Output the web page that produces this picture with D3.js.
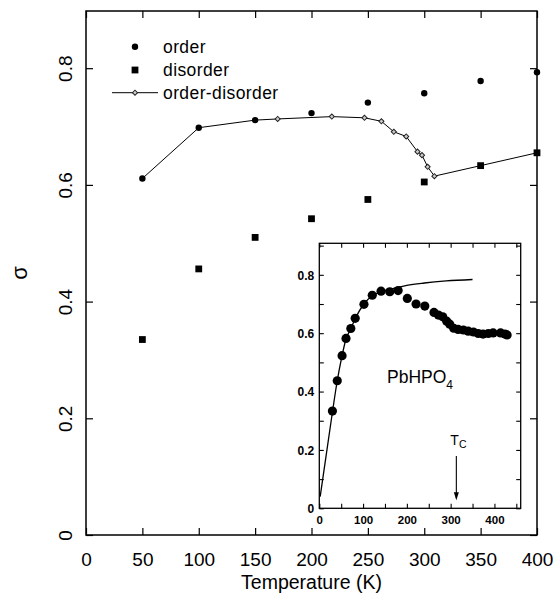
<!DOCTYPE html>
<html>
<head>
<meta charset="utf-8">
<script src="https://cdn.jsdelivr.net/npm/d3@7"></script>
<style>
  body { margin: 0; background: #fff; }
  text { font-family: "Liberation Sans", Arial, sans-serif; fill: #000; }
</style>
</head>
<body>
<div id="chart"></div>
<script>
// main panel data
var temps = [50, 100, 150, 200, 250, 300, 350, 400];
var orderVals = [0.611, 0.698, 0.711, 0.723, 0.741, 0.757, 0.778, 0.793];
var disorderVals = [0.335, 0.456, 0.510, 0.542, 0.575, 0.605, 0.633, 0.655];
var odTemps = [50, 100, 150, 170, 218, 247, 262, 273, 284, 294, 298, 303, 309, 350, 400];
var odVals = [0.611, 0.698, 0.711, 0.713, 0.717, 0.715, 0.709, 0.691, 0.683, 0.657, 0.651, 0.631, 0.615, 0.633, 0.655];
var xTicks = [0, 50, 100, 150, 200, 250, 300, 350, 400];
var yTicks = [0, 0.2, 0.4, 0.6, 0.8];

// inset data (PbHPO4)
var insetT = [30, 41, 52, 61, 72, 82, 102, 121, 141, 161, 180, 201, 221, 241, 262, 272, 282, 291, 298, 307, 317, 329, 340, 352, 363, 374, 386, 397, 414, 424, 429];
var insetSigma = [0.333, 0.437, 0.523, 0.582, 0.616, 0.651, 0.699, 0.730, 0.744, 0.742, 0.746, 0.719, 0.700, 0.693, 0.671, 0.662, 0.656, 0.641, 0.631, 0.617, 0.613, 0.611, 0.607, 0.604, 0.599, 0.597, 0.599, 0.601, 0.601, 0.597, 0.594];
var theoryT = [2, 30, 41, 52, 61, 72, 82, 102, 121, 141, 165, 200, 240, 290, 350];
var theorySigma = [0.04, 0.33, 0.437, 0.523, 0.58, 0.615, 0.65, 0.70, 0.728, 0.742, 0.752, 0.764, 0.772, 0.779, 0.784];
var insetXTicks = [0, 100, 200, 300, 400];
var Tc = 313;

var svg = d3.select("#chart").append("svg")
    .attr("width", 555)
    .attr("height", 605);

var x = d3.scaleLinear().domain([0, 400]).range([86, 537]);
var y = d3.scaleLinear().domain([0, 0.898]).range([535, 11]);

// frame
svg.append("rect")
    .attr("x", 86).attr("y", 11)
    .attr("width", 451).attr("height", 524)
    .attr("fill", "none").attr("stroke", "#000").attr("stroke-width", 1.5);

var fmt = d => d === 0 ? "0" : d3.format(".1f")(d);

var bottom = svg.append("g").attr("transform", "translate(0,535)")
    .call(d3.axisBottom(x).tickValues(xTicks).tickSizeInner(-7).tickSizeOuter(0));
bottom.selectAll("text").attr("y", 31).attr("dy", 0).style("font-size", "19px");
svg.append("g").attr("transform", "translate(0,11)")
    .call(d3.axisTop(x).tickValues(xTicks).tickSizeInner(-7).tickSizeOuter(0).tickFormat(""));

var left = svg.append("g").attr("transform", "translate(86,0)")
    .call(d3.axisLeft(y).tickValues(yTicks).tickSizeInner(-7).tickSizeOuter(0).tickFormat(fmt));
left.selectAll("text")
    .attr("transform", "rotate(-90)")
    .attr("x", 0).attr("y", -14).attr("dy", 0)
    .attr("text-anchor", "middle")
    .style("font-size", "19px");
svg.append("g").attr("transform", "translate(537,0)")
    .call(d3.axisRight(y).tickValues(yTicks).tickSizeInner(-7).tickSizeOuter(0).tickFormat(""));

svg.selectAll(".domain").remove();
svg.selectAll(".tick line").attr("stroke", "#000").attr("stroke-width", 1.2);

svg.append("text")
    .attr("x", 311.5).attr("y", 589)
    .attr("text-anchor", "middle")
    .style("font-size", "19.5px")
    .text("Temperature (K)");

svg.append("text")
    .attr("transform", "translate(27,273) rotate(-90)")
    .attr("text-anchor", "middle")
    .style("font-size", "22px")
    .text("σ");

// order-disorder line
var line = d3.line().x(d => x(d[0])).y(d => y(d[1]));
var odPts = odTemps.map((t, i) => [t, odVals[i]]);
svg.append("path")
    .attr("d", line(odPts))
    .attr("fill", "none").attr("stroke", "#000").attr("stroke-width", 1);

var diamond = d3.symbol().type(d3.symbolSquare).size(13);
svg.selectAll(".od")
    .data(odPts.filter(d => temps.indexOf(d[0]) < 0))
    .enter().append("path")
    .attr("d", diamond)
    .attr("transform", d => `translate(${x(d[0])},${y(d[1])}) rotate(45)`)
    .attr("fill", "#ccc").attr("stroke", "#222").attr("stroke-width", 1);

svg.selectAll(".ord")
    .data(temps)
    .enter().append("circle")
    .attr("cx", d => x(d))
    .attr("cy", (d, i) => y(orderVals[i]))
    .attr("r", 3.2)
    .attr("fill", "#000");

svg.selectAll(".dis")
    .data(temps)
    .enter().append("rect")
    .attr("x", d => x(d) - 3.4)
    .attr("y", (d, i) => y(disorderVals[i]) - 3.4)
    .attr("width", 6.8).attr("height", 6.8)
    .attr("fill", "#000");

// legend
var lg = svg.append("g");
lg.append("circle").attr("cx", 135).attr("cy", 46.7).attr("r", 3.2);
lg.append("rect").attr("x", 131.6).attr("y", 66.6).attr("width", 6.8).attr("height", 6.8);
lg.append("line").attr("x1", 112).attr("x2", 158).attr("y1", 92.7).attr("y2", 92.7)
    .attr("stroke", "#000").attr("stroke-width", 1);
lg.append("path").attr("d", diamond).attr("transform", "translate(135,92.7) rotate(45)")
    .attr("fill", "#ccc").attr("stroke", "#222");
["order", "disorder", "order-disorder"].forEach(function(s, i) {
    lg.append("text")
        .attr("x", 163).attr("y", [46.7, 70, 92.7][i])
        .attr("dy", "0.35em")
        .style("font-size", "17.5px")
        .style("letter-spacing", "0.4px")
        .text(s);
});

// inset
var ix = d3.scaleLinear().domain([0, 460]).range([319.3, 520.7]);
var iy = d3.scaleLinear().domain([0, 0.908]).range([508.3, 243.3]);
var inset = svg.append("g");
inset.append("rect")
    .attr("x", 319.3).attr("y", 243.3)
    .attr("width", 201.4).attr("height", 265)
    .attr("fill", "#fff").attr("stroke", "#000").attr("stroke-width", 1.3);

var ixMinor = d3.range(0, 460, 50);
var iyMinor = d3.range(0, 0.91, 0.1);
var ib = inset.append("g").attr("transform", "translate(0,508.3)")
    .call(d3.axisBottom(ix).tickValues(ixMinor).tickSizeInner(-4.5).tickSizeOuter(0)
        .tickFormat(d => insetXTicks.indexOf(d) >= 0 ? d : ""));
ib.selectAll("text").attr("y", 16).attr("dy", 0)
    .style("font-size", "11.5px").style("font-weight", "bold");
inset.append("g").attr("transform", "translate(0,243.3)")
    .call(d3.axisTop(ix).tickValues(ixMinor).tickSizeInner(-4.5).tickSizeOuter(0).tickFormat(""));
var il = inset.append("g").attr("transform", "translate(319.3,0)")
    .call(d3.axisLeft(iy).tickValues(iyMinor).tickSizeInner(-4.5).tickSizeOuter(0)
        .tickFormat((d, i) => i % 2 === 0 ? fmt(d) : ""));
il.selectAll("text").attr("x", -5).attr("dy", "0.35em")
    .style("font-size", "12px").style("font-weight", "bold");
inset.append("g").attr("transform", "translate(520.7,0)")
    .call(d3.axisRight(iy).tickValues(iyMinor).tickSizeInner(-4.5).tickSizeOuter(0).tickFormat(""));
inset.selectAll(".domain").remove();
inset.selectAll(".tick line").attr("stroke", "#000").attr("stroke-width", 1.1);

var iline = d3.line().curve(d3.curveMonotoneX).x(d => ix(d[0])).y(d => iy(d[1]));
inset.append("path")
    .attr("d", iline(theoryT.map((t, i) => [t, theorySigma[i]])))
    .attr("fill", "none").attr("stroke", "#000").attr("stroke-width", 1.3);

inset.selectAll(".pt")
    .data(insetT)
    .enter().append("circle")
    .attr("cx", d => ix(d))
    .attr("cy", (d, i) => iy(insetSigma[i]))
    .attr("r", 4.6)
    .attr("fill", "#000");

var lab = inset.append("text")
    .attr("x", 387).attr("y", 383.3)
    .style("font-size", "17.5px");
lab.append("tspan").text("PbHPO");
lab.append("tspan").attr("dy", 6).style("font-size", "12px").text("4");

var tc = inset.append("text")
    .attr("x", ix(Tc) - 6).attr("y", 445)
    .style("font-size", "14px");
tc.append("tspan").text("T");
tc.append("tspan").attr("dy", 3).style("font-size", "10.5px").text("C");

inset.append("line")
    .attr("x1", ix(Tc)).attr("x2", ix(Tc))
    .attr("y1", iy(0.179)).attr("y2", iy(0.035))
    .attr("stroke", "#000").attr("stroke-width", 1.1);
inset.append("path")
    .attr("d", `M${ix(Tc) - 2.5},${iy(0.055)} L${ix(Tc)},${iy(0.028)} L${ix(Tc) + 2.5},${iy(0.055)} Z`)
    .attr("fill", "#000");
</script>
</body>
</html>
